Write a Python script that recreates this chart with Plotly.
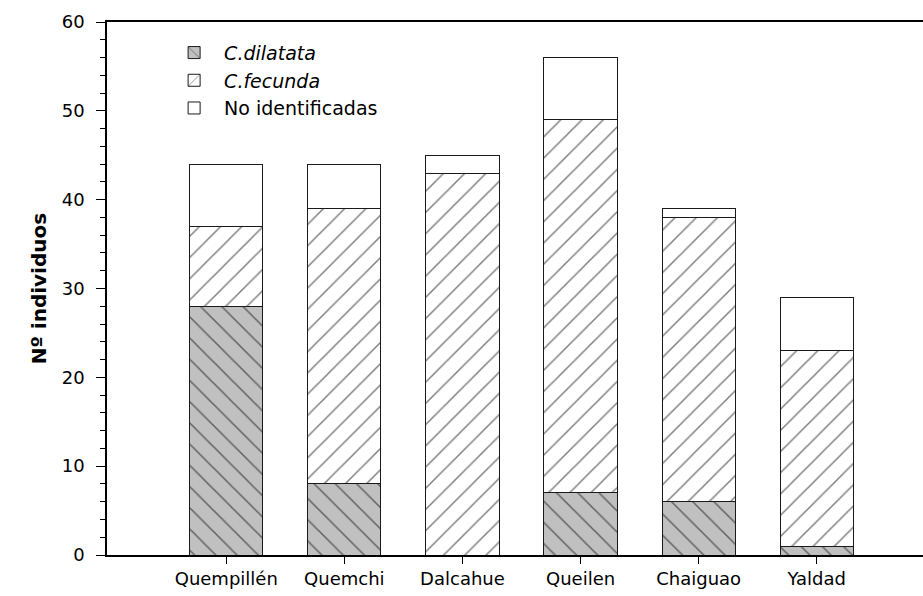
import plotly.graph_objects as go

# Sites and counts per group (stacked)
sitios = ["Quempillén", "Quemchi", "Dalcahue", "Queilen", "Chaiguao", "Yaldad"]
c_dilatata = [28, 8, 0, 7, 6, 1]
c_fecunda = [9, 31, 43, 42, 32, 22]
no_identificadas = [7, 5, 2, 7, 1, 6]

x_pos = list(range(len(sitios)))

FONT = "DejaVu Sans, Liberation Sans, Arial, sans-serif"
edge = dict(color="#1a1a1a", width=1)

fig = go.Figure()
fig.add_trace(go.Bar(
    x=x_pos, y=c_dilatata, name="<i>C.dilatata</i>", width=0.62,
    marker=dict(color="#c0c0c0", line=edge,
                pattern=dict(shape="\\", fgcolor="#000000", bgcolor="#c0c0c0",
                             size=15, solidity=0.1, fillmode="overlay")),
))
fig.add_trace(go.Bar(
    x=x_pos, y=c_fecunda, name="<i>C.fecunda</i>", width=0.62,
    marker=dict(color="#ffffff", line=edge,
                pattern=dict(shape="/", fgcolor="#000000", bgcolor="#ffffff",
                             size=15, solidity=0.1, fillmode="overlay")),
))
fig.add_trace(go.Bar(
    x=x_pos, y=no_identificadas, name="No identificadas", width=0.62,
    marker=dict(color="#ffffff", line=edge),
))

fig.update_layout(
    barmode="stack",
    width=923, height=596,
    margin=dict(l=107, r=0, t=22, b=41),
    paper_bgcolor="white", plot_bgcolor="white",
    font=dict(family=FONT, size=18, color="#000000"),
    showlegend=True,
    legend=dict(x=0.07, y=0.978, xanchor="left", yanchor="top",
                traceorder="normal", bgcolor="rgba(0,0,0,0)",
                font=dict(family=FONT, size=19), itemwidth=50),
    xaxis=dict(
        tickmode="array", tickvals=x_pos, ticktext=sitios,
        range=[-1.01, 5.9], showgrid=False, zeroline=False,
        showline=True, linecolor="#000000", linewidth=1.5, mirror=True,
        ticks="outside", ticklen=7, tickcolor="#000000",
        tickfont=dict(family=FONT, size=18),
    ),
    yaxis=dict(
        range=[0, 60], tickvals=[0, 10, 20, 30, 40, 50, 60],
        showgrid=False, zeroline=False,
        showline=True, linecolor="#000000", linewidth=1.5,
        ticks="outside", ticklen=9, tickcolor="#000000",
        minor=dict(dtick=2, ticks="outside", ticklen=5, tickcolor="#000000"),
        tickfont=dict(family=FONT, size=18), ticklabelstandoff=8,
        title=dict(text="<b>Nº individuos</b>", font=dict(family=FONT, size=20),
                   standoff=10),
    ),
)

fig.write_html("out.html")
